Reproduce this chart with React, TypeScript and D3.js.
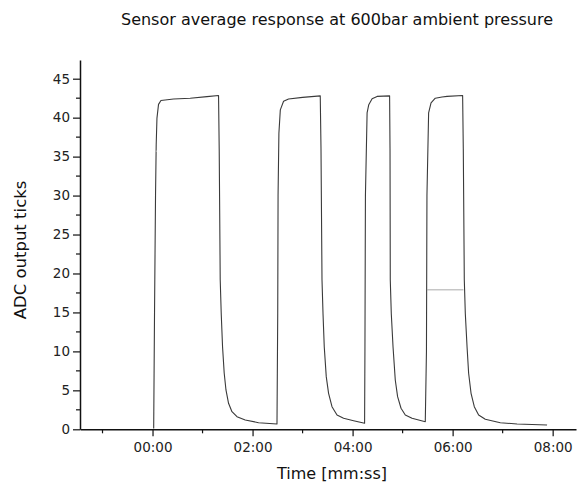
import * as d3 from "d3";
import { useRef, useEffect } from "react";

// time in seconds, ADC output ticks
const traceTime = [
  1.4, 2.4, 3.6, 4.4, 5.3, 7.2, 10.1, 25.2, 45.2, 65.3, 79.2,
  80.0, 81.2, 82.4, 84.0, 86.0, 88.1, 91.2, 95.3, 101.3, 111.2, 127.2, 149.3,
  150.2, 150.6, 151.6, 153.3, 157.2, 163.2, 180, 201.2,
  202.1, 203.3, 204.5, 206.0, 208.4, 211.2, 215.3, 221.3, 229.2, 241.2, 254.4,
  254.8, 255.4, 257.4, 259.4, 263.4, 269.4, 284.4,
  284.9, 285.2, 286.4, 288.5, 291.2, 294.0, 298.1, 303.2, 311.3, 327.2,
  328.6, 329.2, 331.2, 334.1, 339.2, 347.3, 353.3, 372,
  372.8, 374.0, 375.2, 377.3, 379.2, 382.1, 386.0, 391.2, 399.2, 417.2, 437.3, 473.3,
];
const traceValue = [
  0.1, 15, 30, 36.5, 39.9, 41.7, 42.2, 42.4, 42.5, 42.7, 42.85,
  35.9, 19.2, 14.9, 10.6, 7.2, 5.05, 3.34, 2.26, 1.62, 1.19, 0.85, 0.68,
  15, 30, 38, 41.0, 42.1, 42.4, 42.6, 42.8,
  36, 19.2, 14.9, 10.6, 6.76, 4.62, 2.9, 1.84, 1.41, 1.1, 0.77,
  10, 30, 40.6, 41.66, 42.43, 42.73, 42.8,
  36, 19.2, 14.9, 10.6, 6.33, 4.19, 2.7, 1.84, 1.41, 0.98,
  10, 30, 40.6, 41.9, 42.5, 42.65, 42.73, 42.85,
  36, 19.2, 14.9, 10.6, 7.2, 4.62, 2.9, 1.84, 1.28, 0.85, 0.68, 0.55,
];

// faint grey segments visible in the plot
const glitchTime = [329.2, 373.0];
const glitchValue = [17.9, 17.9];
const blipTime = [3.8, 5.2];
const blipValue = [35.7, 35.7];

const yTicks = [0, 5, 10, 15, 20, 25, 30, 35, 40, 45];
const yMinor = [2.5, 7.5, 12.5, 17.5, 22.5, 27.5, 32.5, 37.5, 42.5, 47.5];
const xTicks = [0, 120, 240, 360, 480];
const xMinor = [-60, 60, 180, 300, 420];

const fmt = (s: number) => {
  const m = Math.floor(s / 60);
  const sec = Math.round(s - m * 60);
  return `${String(m).padStart(2, "0")}:${String(sec).padStart(2, "0")}`;
};

export default function App() {
  const ref = useRef<SVGSVGElement>(null);

  useEffect(() => {
    const svg = d3.select(ref.current);
    svg.selectAll("*").remove();

    const w = 582, h = 483;
    const left = 80, bottom = 429.3;
    const x = d3.scaleLinear().domain([-87, 508]).range([left, 576]);
    const y = d3.scaleLinear().domain([0, 47.4]).range([bottom, 60]);
    const font = "DejaVu Sans, Verdana, sans-serif";

    svg.attr("width", w).attr("height", h);
    svg.append("rect").attr("width", w).attr("height", h).attr("fill", "white");

    // title
    svg.append("text")
      .attr("x", 337).attr("y", 25)
      .attr("text-anchor", "middle")
      .attr("font-family", font).attr("font-size", 16)
      .attr("fill", "#111")
      .text("Sensor average response at 600bar ambient pressure");

    // trace
    const pts = traceTime.map((t, i) => [t, traceValue[i]] as [number, number]);
    const line = d3.line<[number, number]>().x(d => x(d[0])).y(d => y(d[1]));
    svg.append("path")
      .datum(pts)
      .attr("fill", "none")
      .attr("stroke", "#3a3a3a")
      .attr("stroke-width", 1.1)
      .attr("stroke-linejoin", "round")
      .attr("d", line);

    const seg = (ts: number[], vs: number[]) => ts.map((t, i) => [t, vs[i]] as [number, number]);
    svg.append("path")
      .datum(seg(glitchTime, glitchValue))
      .attr("fill", "none").attr("stroke", "#aaa").attr("stroke-width", 1)
      .attr("d", line);
    svg.append("path")
      .datum(seg(blipTime, blipValue))
      .attr("fill", "none").attr("stroke", "#ccc").attr("stroke-width", 1)
      .attr("d", line);

    // axes
    const gy = svg.append("g").attr("transform", `translate(${left},0)`);
    gy.call(d3.axisLeft(y).tickValues(yTicks).tickSize(7).tickSizeOuter(0).tickPadding(3));
    gy.selectAll(".minor").data(yMinor.filter(v => v <= 47.4)).enter().append("line")
      .attr("x1", -4).attr("x2", 0).attr("y1", d => y(d)).attr("y2", d => y(d))
      .attr("stroke", "#111").attr("stroke-width", 1.2);

    const gx = svg.append("g").attr("transform", `translate(0,${bottom})`);
    gx.call(d3.axisBottom(x).tickValues(xTicks).tickFormat(d => fmt(+d)).tickSize(7).tickSizeOuter(0).tickPadding(6));
    gx.selectAll(".minor").data(xMinor).enter().append("line")
      .attr("x1", d => x(d)).attr("x2", d => x(d)).attr("y1", 0).attr("y2", 4)
      .attr("stroke", "#111").attr("stroke-width", 1.2);

    svg.selectAll(".domain").attr("stroke", "#111").attr("stroke-width", 1.5);
    svg.selectAll(".tick line").attr("stroke", "#111").attr("stroke-width", 1.2);
    svg.selectAll(".tick text")
      .attr("font-family", font).attr("font-size", 13.5).attr("fill", "#222");

    // axis labels
    svg.append("text")
      .attr("x", 332).attr("y", 479)
      .attr("text-anchor", "middle")
      .attr("font-family", font).attr("font-size", 16)
      .attr("fill", "#111")
      .text("Time [mm:ss]");

    svg.append("text")
      .attr("transform", "translate(26,250) rotate(-90)")
      .attr("text-anchor", "middle")
      .attr("font-family", font).attr("font-size", 16.5)
      .attr("fill", "#111")
      .text("ADC output ticks");
  }, []);

  return (
    <svg ref={ref} style={{ position: "absolute", left: 0, top: 0 }} />
  );
}
